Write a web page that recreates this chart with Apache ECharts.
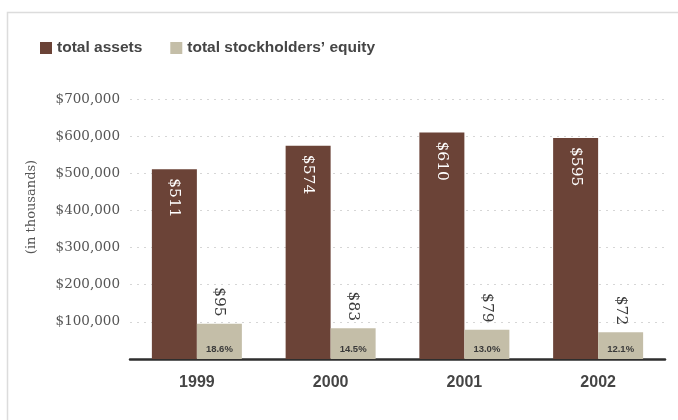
<!DOCTYPE html>
<html>
<head>
<meta charset="utf-8">
<script src="https://cdn.jsdelivr.net/npm/echarts@6/dist/echarts.min.js"></script>
<style>
  html, body { margin: 0; padding: 0; background: #fff; }
  #chart { width: 678px; height: 420px; }
</style>
</head>
<body>
<div id="chart"></div>
<script>
// Fiscal years shown on the category axis
const years = ['1999', '2000', '2001', '2002'];
// Balance sheet totals, in thousands of dollars
const totalAssets = [511000, 574000, 610000, 595000];
const totalEquity = [95000, 83000, 79000, 72000];
// Equity as a share of assets, printed at the foot of each equity bar
const equityShare = ['18.6%', '14.5%', '13.0%', '12.1%'];
// Value axis ticks
const yTicks = [0, 100000, 200000, 300000, 400000, 500000, 600000, 700000];

const brown = '#6b4337';
const beige = '#c4bea8';
const serif = '"DejaVu Serif", "Liberation Serif", serif';
const sans = '"Liberation Sans", Arial, sans-serif';

const chart = echarts.init(document.getElementById('chart'), null, { renderer: 'canvas' });

const money = v => '$' + Math.round(v / 1000);

chart.setOption({
  animation: false,
  backgroundColor: '#fff',
  graphic: [
    {
      type: 'rect',
      shape: { x: 7.5, y: 12.5, width: 700, height: 440 },
      style: { fill: 'none', stroke: '#dcdcdc', lineWidth: 1.5 },
      silent: true
    },
    {
      type: 'text',
      x: 32, y: 207,
      rotation: Math.PI / 2,
      style: {
        text: '(in thousands)',
        font: '13px ' + serif,
        fill: '#555',
        align: 'center',
        verticalAlign: 'middle'
      }
    }
  ],
  legend: {
    left: 35,
    top: 35,
    itemWidth: 12,
    itemHeight: 12,
    itemGap: 28,
    icon: 'rect',
    textStyle: { fontFamily: sans, fontSize: 15.5, fontWeight: 'bold', color: '#454545' },
    data: ['total assets', 'total stockholders\u2019 equity']
  },
  grid: { left: 130, right: 13, top: 99, bottom: 61 },
  xAxis: {
    type: 'category',
    data: years,
    axisLine: { lineStyle: { color: '#2e2e2e', width: 2.5 } },
    axisTick: { show: false },
    axisLabel: { fontFamily: sans, fontSize: 16, fontWeight: 'bold', color: '#454545', margin: 16 }
  },
  yAxis: {
    type: 'value',
    min: yTicks[0],
    max: yTicks[yTicks.length - 1],
    interval: yTicks[1] - yTicks[0],
    axisLine: { show: false },
    axisTick: { show: false },
    axisLabel: {
      fontFamily: serif,
      fontSize: 13.5,
      color: '#555',
      margin: 10,
      formatter: v => v === 0 ? '' : '$' + v.toLocaleString('en-US')
    },
    splitLine: { lineStyle: { color: '#d6d6d6', type: [2, 5], width: 1.2 } }
  },
  series: [
    {
      name: 'total assets',
      type: 'bar',
      data: totalAssets,
      barWidth: 45,
      barGap: '0%',
      itemStyle: { color: brown },
      label: {
        show: true,
        position: 'insideTop',
        rotate: -90,
        align: 'left',
        verticalAlign: 'middle',
        distance: 9,
        fontFamily: serif,
        fontSize: 15.5,
        color: '#fff',
        formatter: p => money(p.value)
      }
    },
    {
      name: 'total stockholders\u2019 equity',
      type: 'bar',
      stack: 'equity',
      data: totalEquity,
      barWidth: 45,
      itemStyle: { color: beige },
      label: {
        show: true,
        position: 'insideBottom',
        distance: 5,
        fontFamily: sans,
        fontSize: 9.5,
        fontWeight: 'bold',
        color: '#3a3a3a',
        formatter: p => equityShare[p.dataIndex]
      }
    },
    {
      // zero-height cap carrying the equity amount above each equity bar
      name: 'equity amount',
      type: 'bar',
      stack: 'equity',
      data: totalEquity.map(() => 0),
      barWidth: 45,
      itemStyle: { color: 'transparent' },
      label: {
        show: true,
        position: 'top',
        rotate: -90,
        align: 'right',
        verticalAlign: 'middle',
        distance: 7,
        fontFamily: serif,
        fontSize: 15.5,
        color: '#3a3a3a',
        formatter: p => money(totalEquity[p.dataIndex])
      }
    }
  ]
});
</script>
</body>
</html>
